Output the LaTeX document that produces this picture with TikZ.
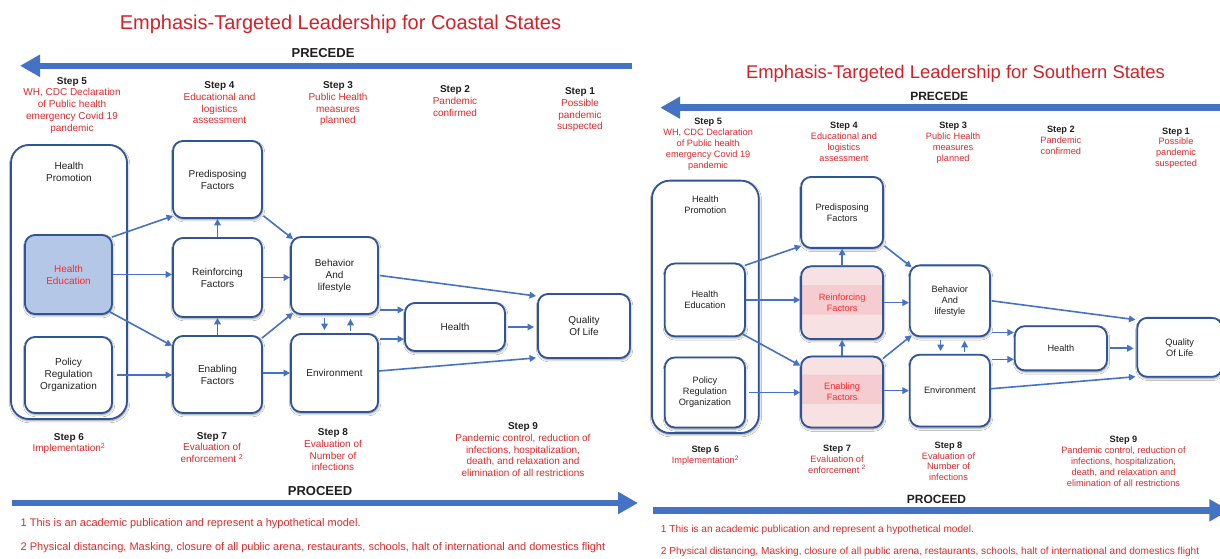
\documentclass[tikz,border=0pt]{standalone}
\usepackage{fontspec}
\setmainfont{Liberation Sans}
\usetikzlibrary{arrows.meta,calc,shadows.blur}

\definecolor{titlered}{HTML}{D42027}
\definecolor{steptext}{HTML}{D92B2B}
\definecolor{hotred}{HTML}{FF2A2A}
\definecolor{flowblue}{HTML}{4472C4}
\definecolor{boxblue}{HTML}{2F5597}
\definecolor{edublue}{HTML}{B4C7E7}
\definecolor{pinkfill}{HTML}{F8E1E3}
\definecolor{pinkband}{HTML}{F5CDD1}
\definecolor{ink}{HTML}{202020}

\tikzset{
  box/.style={draw=boxblue, line width=1.8pt, rounded corners=10pt, fill=white,
    align=center, inner sep=0pt, font=\fontsize{10}{12}\selectfont, text=ink,
    blur shadow={shadow xshift=0.6pt, shadow yshift=-1.6pt,
      shadow blur radius=2.2pt, shadow opacity=45}},
  plainbox/.style={},
  bluebox/.style={fill=edublue, text=hotred},
  pinkbox/.style={fill=pinkfill, text=hotred,
    path picture={\fill[pinkband]
      ($(path picture bounding box.center)+(-60pt,19pt)$) rectangle
      ($(path picture bounding box.center)+(60pt,-13pt)$);}},
  plaintext/.style={align=center, inner sep=0pt, font=\fontsize{10}{12}\selectfont, text=ink},
  link/.style={draw=flowblue, line width=1.6pt, -{Triangle[length=6.5pt,width=6.5pt]}},
  bigarrow/.style={draw=flowblue, line width=6.5pt, -{Triangle[length=20pt,width=21pt]}},
  steplbl/.style={anchor=north, align=center, inner sep=0pt,
    font=\fontsize{10}{11.8}\selectfont, text=steptext},
  titletext/.style={anchor=base, inner sep=0pt, font=\fontsize{20}{24}\selectfont, text=titlered},
  phase/.style={anchor=base, inner sep=0pt, font=\fontsize{13}{15}\selectfont\bfseries, text=ink},
  note/.style={anchor=base west, inner sep=0pt, font=\fontsize{11}{13}\selectfont, text=steptext},
}

\newcommand{\stephead}[1]{{\bfseries\color{ink}Step #1}}

% One PRECEDE-PROCEED panel.
% #1 title, #2 title baseline, #3 style of Health Education, #4 style of Reinforcing/Enabling
\newcommand{\etlpanel}[4]{%
  \node[titletext] (title) at (340.5,#2) {#1};
  \node[phase] (precede) at (323,57.7) {PRECEDE};
  \coordinate (precstart) at (632,65.8);
  \coordinate (precend) at (20,65.8);
  \draw[bigarrow] (precstart) -- (precend);

  % planning steps
  \node[steplbl] (s5) at (72,77) {\stephead{5}\\WH, CDC Declaration\\of Public health\\emergency Covid 19\\pandemic};
  \node[steplbl] (s4) at (219.5,81.3) {\stephead{4}\\Educational and\\logistics\\assessment};
  \node[steplbl] (s3) at (338,81.3) {\stephead{3}\\Public Health\\measures\\planned};
  \node[steplbl] (s2) at (455,85.6) {\stephead{2}\\Pandemic\\confirmed};
  \node[steplbl] (s1) at (580,87.3) {\stephead{1}\\Possible\\pandemic\\suspected};

  % model boxes
  \node[box, rounded corners=18pt, minimum width=116pt, minimum height=274pt] (hp) at (69,282) {};
  \node[plaintext] (hptxt) at (69,171.5) {Health\\Promotion};
  \node[box, #3, minimum width=87pt, minimum height=79pt] (he) at (68.5,274.5) {Health\\Education};
  \node[box, minimum width=87pt, minimum height=76pt] (pol) at (68.5,375) {Policy\\Regulation\\Organization};
  \node[box, minimum width=89pt, minimum height=77pt] (pre) at (217.5,179.5) {Predisposing\\Factors};
  \node[box, #4, minimum width=89pt, minimum height=79pt] (rei) at (217.5,277.5) {Reinforcing\\Factors};
  \node[box, #4, minimum width=89pt, minimum height=77pt] (ena) at (217.5,374.5) {Enabling\\Factors};
  \node[box, minimum width=87pt, minimum height=77pt] (beh) at (334.5,275.5) {Behavior\\And\\lifestyle};
  \node[box, minimum width=87pt, minimum height=78pt] (env) at (334.5,373) {Environment};
  \node[box, minimum width=100pt, minimum height=48pt] (hea) at (455,327) {Health};
  \node[box, minimum width=92pt, minimum height=64pt] (qol) at (584,326) {Quality\\Of Life};

  % connectors
  \draw[link] ($(he.north east)+(-1,3)$) -- ($(pre.south west)+(1,-3)$);
  \draw[link] (he.east) -- (he.east -| rei.west);
  \draw[link] ($(he.south east)+(-3,-3)$) -- ($(ena.north west)+(0,10.7)$);
  \draw[link] ($(pol.east)+(4,0)$) -- (pol.east -| ena.west);
  \draw[link] (rei.north) -- (pre.south);
  \draw[link] (ena.north) -- (rei.south);
  \draw[link] ($(pre.south east)+(0.6,-3)$) -- ($(beh.north west)+(3,3)$);
  \draw[link] (rei.east) -- (rei.east -| beh.west);
  \draw[link] ($(ena.north east)+(-1,3)$) -- ($(beh.south west)+(3,-2)$);
  \draw[link] (env.west -| ena.east) -- (env.west);
  \draw[link] ($(beh.south)+(-10,3)$) -- ($(env.north)+(-10,-3)$);
  \draw[link] ($(env.north)+(16,-2)$) -- ($(beh.south)+(16,4)$);
  \coordinate (bh) at ($(beh.south east)+(1,-5)$);
  \draw[link] (bh) -- (bh -| hea.west);
  \coordinate (eh) at ($(env.north east)+(1,6)$);
  \draw[link] (eh) -- (eh -| hea.west);
  \draw[link] ($(hea.east)+(2,0)$) -- ($(hea.east -| qol.west)+(-3,0)$);
  \draw[link] ($(beh.east)+(1,0)$) -- ($(qol.west)+(-1,-30)$);
  \draw[link] ($(env.east)+(0,-2)$) -- ($(qol.south west)+(-1,-1)$);

  % implementation and evaluation steps
  \node[steplbl] (s6) at (69,433) {\stephead{6}\\Implementation\textsuperscript{2}};
  \node[steplbl] (s7) at (212,432) {\stephead{7}\\Evaluation of\\enforcement \textsuperscript{2}};
  \node[steplbl] (s8) at (333,428.3) {\stephead{8}\\Evaluation of\\Number of\\infections};
  \node[steplbl] (s9) at (523,422.3) {\stephead{9}\\Pandemic control, reduction of\\infections, hospitalization,\\death, and relaxation and\\elimination of all restrictions};

  \node[phase] (proceed) at (320,495.6) {PROCEED};
  \coordinate (procstart) at (12,503);
  \coordinate (procend) at (638,503);
  \draw[bigarrow] (procstart) -- (procend);

  \node[note] (fn1) at (20.5,526.8) {1 This is an academic publication and represent a hypothetical model.};
  \node[note] (fn2) at (20.5,550.5) {2 Physical distancing, Masking, closure of all public arena, restaurants, schools, halt of international and domestics flight};
}

\begin{document}
\begin{tikzpicture}[x=1pt,y=-1pt]
  \useasboundingbox (0,0) rectangle (1220,559);
  \fill[white] (0,0) rectangle (1220,559);
  \clip (0,0) rectangle (1220,559);

  \begin{scope}[name prefix=L-]
    \etlpanel{Emphasis-Targeted Leadership for Coastal States}{30}{bluebox}{plainbox}
  \end{scope}

  \begin{scope}[shift={(641.8,47.1)}, scale=0.921, transform shape, name prefix=R-]
    \etlpanel{Emphasis-Targeted Leadership for Southern States}{34}{plainbox}{pinkbox}
  \end{scope}
\end{tikzpicture}
\end{document}
